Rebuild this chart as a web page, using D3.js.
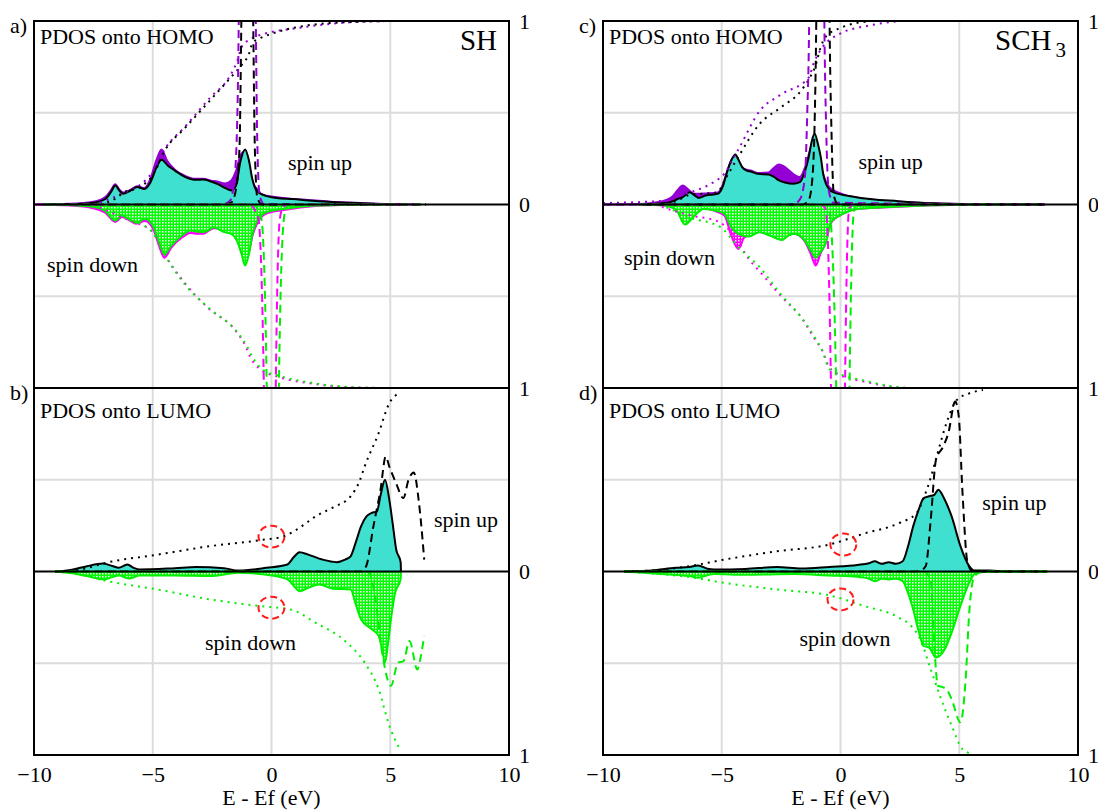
<!DOCTYPE html>
<html>
<head>
<meta charset="utf-8">
<script src="https://cdn.jsdelivr.net/npm/d3@7"></script>
<style>
  body { margin: 0; background: #fff; }
  svg { display: block; }
  text { font-family: "Liberation Serif", "DejaVu Serif", serif; fill: #000; }
</style>
</head>
<body>
<div id="chart"></div>
<script>
// ---- data: [energy (eV), value] ----
// a) SH, PDOS onto HOMO
const aUpB = [[-9.6,0],[-8.5,0.002],[-7.5,0.01],[-7.0,0.03],[-6.75,0.07],[-6.58,0.104],[-6.4,0.075],[-6.25,0.058],[-5.95,0.075],[-5.65,0.095],[-5.35,0.085],[-5.1,0.12],[-4.85,0.2],[-4.63,0.244],[-4.35,0.21],[-4.07,0.185],[-3.62,0.149],[-3.25,0.135],[-2.88,0.136],[-2.55,0.125],[-2.29,0.113],[-1.95,0.09],[-1.7,0.076],[-1.5,0.1],[-1.3,0.24],[-1.11,0.3],[-0.95,0.24],[-0.81,0.14],[-0.6,0.07],[-0.3,0.05],[0.22,0.036],[0.9,0.03],[1.55,0.022],[2.5,0.014],[3.33,0.009],[4.5,0.003],[5.5,0]];
const aUpP = [[-10,0],[-8.5,0.004],[-7.5,0.015],[-7.0,0.04],[-6.75,0.08],[-6.58,0.11],[-6.4,0.08],[-6.25,0.065],[-5.95,0.08],[-5.65,0.1],[-5.35,0.09],[-5.1,0.14],[-4.85,0.24],[-4.63,0.3],[-4.4,0.24],[-4.07,0.19],[-3.62,0.155],[-3.25,0.14],[-2.88,0.14],[-2.55,0.13],[-2.29,0.125],[-1.95,0.115],[-1.7,0.13],[-1.5,0.18],[-1.3,0.27],[-1.11,0.29],[-0.95,0.2],[-0.81,0.13],[-0.6,0.08],[-0.3,0.05],[0.22,0.04],[0.9,0.03],[1.55,0.025],[2.5,0.015],[3.33,0.01],[4.5,0.004],[6,0]];
const aDnG = [[-9.6,0],[-8.5,-0.003],[-7.5,-0.012],[-7.0,-0.035],[-6.58,-0.087],[-6.29,-0.06],[-6.0,-0.08],[-5.7,-0.1],[-5.33,-0.078],[-4.96,-0.124],[-4.75,-0.2],[-4.51,-0.27],[-4.22,-0.224],[-3.77,-0.169],[-3.4,-0.142],[-3.1,-0.148],[-2.88,-0.151],[-2.6,-0.135],[-2.44,-0.124],[-2.0,-0.15],[-1.7,-0.16],[-1.45,-0.2],[-1.26,-0.27],[-1.11,-0.333],[-0.95,-0.27],[-0.8,-0.16],[-0.59,-0.087],[-0.22,-0.042],[0.52,-0.024],[1.85,-0.006],[3,-0.002],[4.8,0]];
const aDnM = [[-10,0],[-8.5,-0.005],[-7.5,-0.02],[-7.0,-0.045],[-6.58,-0.095],[-6.29,-0.068],[-6.0,-0.085],[-5.7,-0.105],[-5.33,-0.09],[-4.96,-0.14],[-4.75,-0.22],[-4.51,-0.29],[-4.22,-0.235],[-3.77,-0.18],[-3.4,-0.155],[-3.1,-0.16],[-2.88,-0.16],[-2.6,-0.14],[-2.44,-0.13],[-2.0,-0.14],[-1.7,-0.15],[-1.45,-0.19],[-1.26,-0.26],[-1.11,-0.31],[-0.95,-0.26],[-0.8,-0.17],[-0.59,-0.1],[-0.22,-0.05],[0.52,-0.03],[1.85,-0.008],[3,-0.003],[5.5,0]];
const aIntUpB = [[-7.2,0],[-6.6,0.03],[-6.2,0.067],[-5.55,0.095],[-4.96,0.167],[-4.51,0.29],[-3.62,0.42],[-2.59,0.567],[-1.7,0.695],[-1.26,0.76],[-0.95,0.82],[-0.81,0.876],[-0.5,0.905],[-0.22,0.92],[1.1,0.967],[3.33,0.995],[5.25,1.0]];
const aIntUpP = [[-7.5,0],[-6.8,0.03],[-6.3,0.06],[-5.6,0.1],[-5.0,0.18],[-4.5,0.3],[-3.6,0.43],[-2.6,0.58],[-1.75,0.7],[-1.45,0.78],[-1.25,0.86],[-0.9,0.9],[-0.3,0.93],[1.0,0.96],[3,0.99],[5,1.0]];
const aIntDnG = [[-7.2,0],[-6.6,-0.04],[-6,-0.08],[-5.3,-0.12],[-4.96,-0.16],[-4.51,-0.27],[-3.62,-0.44],[-2.59,-0.57],[-1.41,-0.7],[-1.0,-0.78],[-0.81,-0.83],[-0.37,-0.9],[0.37,-0.935],[1.85,-0.975],[3.77,-0.998],[5,-1.0]];
const aIntDnM = [[-7.5,0],[-6.8,-0.04],[-6.2,-0.075],[-5.5,-0.11],[-5.0,-0.15],[-4.6,-0.25],[-3.7,-0.42],[-2.7,-0.56],[-1.5,-0.69],[-1.1,-0.77],[-0.9,-0.83],[-0.45,-0.9],[0.3,-0.94],[1.8,-0.978],[3.7,-0.998],[5,-1.0]];
const aSpkUpB = [[-9.6,0],[-2.0,0],[-1.7,0.01],[-1.5,0.08],[-1.35,0.3],[-1.27,1.0],[-1.22,1.6],[-0.82,1.6],[-0.77,1.0],[-0.7,0.3],[-0.6,0.04],[-0.4,0],[6.5,0]];
const aSpkUpP = [[-9.6,0],[-2.1,0],[-1.75,0.02],[-1.55,0.15],[-1.42,0.6],[-1.37,1.1],[-1.33,1.6],[-0.7,1.6],[-0.66,1.0],[-0.6,0.35],[-0.5,0.05],[-0.3,0],[6.5,0]];
const aSpkDnM = [[-9.6,0],[-0.9,0],[-0.7,-0.03],[-0.55,-0.08],[-0.32,-1.0],[-0.29,-1.6],[0.15,-1.6],[0.18,-1.0],[0.35,-0.08],[0.5,-0.01],[0.8,0],[6.5,0]];
const aSpkDnG = [[-9.6,0],[-0.8,0],[-0.55,-0.03],[-0.42,-0.08],[-0.2,-1.0],[-0.17,-1.6],[0.28,-1.6],[0.31,-1.0],[0.52,-0.08],[0.65,-0.01],[0.9,0],[6.5,0]];

// c) SCH3, PDOS onto HOMO
const cUpB = [[-8.3,0],[-7.6,0.005],[-7.16,0.013],[-6.85,0.03],[-6.64,0.04],[-6.35,0.067],[-6.15,0.05],[-5.98,0.036],[-5.68,0.049],[-5.17,0.058],[-4.95,0.1],[-4.8,0.167],[-4.6,0.24],[-4.43,0.273],[-4.28,0.24],[-4.14,0.204],[-3.95,0.185],[-3.77,0.18],[-3.48,0.167],[-3.03,0.164],[-2.8,0.15],[-2.59,0.131],[-2.3,0.118],[-2.0,0.113],[-1.71,0.122],[-1.5,0.18],[-1.34,0.258],[-1.2,0.35],[-1.09,0.385],[-0.95,0.33],[-0.83,0.258],[-0.72,0.16],[-0.61,0.113],[-0.31,0.067],[0.66,0.04],[2.43,0.018],[3.9,0.007],[6.1,0.002],[8.6,0]];
const cUpP = [[-10,0],[-8.5,0.003],[-7.6,0.015],[-7.1,0.04],[-6.85,0.08],[-6.64,0.104],[-6.4,0.08],[-6.2,0.06],[-5.98,0.058],[-5.68,0.06],[-5.17,0.065],[-4.95,0.11],[-4.8,0.17],[-4.6,0.24],[-4.43,0.26],[-4.28,0.23],[-4.14,0.2],[-3.95,0.19],[-3.77,0.185],[-3.48,0.172],[-3.03,0.175],[-2.8,0.2],[-2.59,0.218],[-2.3,0.2],[-2.0,0.167],[-1.71,0.15],[-1.5,0.2],[-1.34,0.27],[-1.2,0.33],[-1.09,0.35],[-0.95,0.3],[-0.8,0.2],[-0.6,0.12],[-0.47,0.095],[0,0.06],[1.0,0.031],[2.5,0.015],[4,0.006],[6,0.002],[8.6,0]];
const cDnG = [[-8.3,0],[-7.4,-0.005],[-6.9,-0.033],[-6.55,-0.109],[-6.2,-0.069],[-5.77,-0.024],[-5.2,-0.035],[-4.89,-0.05],[-4.6,-0.124],[-4.3,-0.16],[-3.86,-0.175],[-3.42,-0.151],[-2.98,-0.169],[-2.47,-0.193],[-2.2,-0.17],[-1.96,-0.16],[-1.51,-0.196],[-1.25,-0.25],[-1.04,-0.29],[-0.85,-0.26],[-0.63,-0.215],[-0.4,-0.096],[0.12,-0.05],[0.71,-0.024],[2.47,-0.011],[3.95,-0.004],[5.5,-0.001],[7,0]];
const cDnM = [[-8.5,0],[-7.4,-0.006],[-6.9,-0.03],[-6.55,-0.1],[-6.2,-0.06],[-5.77,-0.02],[-5.2,-0.04],[-4.89,-0.06],[-4.6,-0.17],[-4.3,-0.242],[-4.05,-0.18],[-3.86,-0.17],[-3.42,-0.15],[-2.98,-0.165],[-2.47,-0.19],[-2.2,-0.168],[-1.96,-0.16],[-1.51,-0.2],[-1.25,-0.27],[-1.04,-0.333],[-0.85,-0.27],[-0.63,-0.21],[-0.4,-0.1],[0.12,-0.05],[0.71,-0.025],[2.47,-0.012],[4,-0.004],[6,0]];
const cIntUpB = [[-7.6,0],[-6.9,0.02],[-6.4,0.05],[-5.2,0.067],[-4.8,0.15],[-4.3,0.26],[-3.4,0.44],[-2.5,0.53],[-1.66,0.62],[-1.3,0.69],[-1.07,0.75],[-0.85,0.85],[-0.63,0.913],[0.1,0.967],[1.3,1.0]];
const cIntUpP = [[-10,0.008],[-7.5,0.02],[-6.5,0.06],[-5.5,0.11],[-4.9,0.167],[-4.3,0.3],[-3.4,0.51],[-2.5,0.6],[-1.35,0.69],[-1.1,0.78],[-0.77,0.855],[-0.03,0.93],[1.2,0.975],[2.46,1.0]];
const cIntDnG = [[-7.6,0],[-6.9,-0.04],[-6.4,-0.069],[-5.05,-0.124],[-4.3,-0.233],[-3.4,-0.342],[-2.53,-0.487],[-1.65,-0.615],[-1.1,-0.72],[-0.77,-0.796],[-0.47,-0.896],[-0.03,-0.924],[1.0,-0.96],[2.5,-0.996],[3,-1.0]];
const cIntDnM = [[-7.8,0],[-7,-0.035],[-6.3,-0.06],[-5.2,-0.09],[-4.6,-0.15],[-4.3,-0.2],[-4.0,-0.27],[-3.3,-0.38],[-2.5,-0.5],[-1.6,-0.625],[-1.1,-0.73],[-0.75,-0.8],[-0.5,-0.88],[0,-0.93],[1.0,-0.965],[2.5,-0.998],[3,-1.0]];
const cSpkUpB = [[-8.3,0],[-1.6,0],[-1.35,0.02],[-1.2,0.12],[-1.08,0.5],[-1.02,1.0],[-0.98,1.6],[-0.5,1.6],[-0.46,1.0],[-0.38,0.4],[-0.28,0.05],[-0.1,0],[8.6,0]];
const cSpkUpP = [[-10,0],[-2.0,0],[-1.7,0.03],[-1.5,0.15],[-1.4,0.5],[-1.32,1.0],[-1.28,1.6],[-0.72,1.6],[-0.68,1.0],[-0.6,0.4],[-0.5,0.08],[-0.3,0.01],[8.6,0]];
const cSpkDnM = [[-8.5,0],[-0.9,0],[-0.7,-0.01],[-0.62,-0.03],[-0.4,-1.0],[-0.37,-1.6],[0.16,-1.6],[0.19,-1.0],[0.36,-0.03],[0.5,0],[8.6,0]];
const cSpkDnG = [[-8.5,0],[-0.75,0],[-0.55,-0.01],[-0.47,-0.03],[-0.18,-1.0],[-0.15,-1.6],[0.35,-1.6],[0.38,-1.0],[0.57,-0.03],[0.7,0],[8.6,0]];

// b) SH, PDOS onto LUMO
const bUpB = [[-9.1,0],[-8.4,0.01],[-7.77,0.029],[-7.1,0.043],[-6.7,0.03],[-6.43,0.02],[-6.07,0.038],[-5.8,0.02],[-5.55,0.011],[-4.07,0.018],[-3.18,0.024],[-2.0,0.018],[-1.4,0.005],[-0.22,0.02],[0.67,0.038],[0.95,0.08],[1.18,0.105],[1.55,0.092],[2.14,0.065],[2.74,0.051],[3.1,0.065],[3.33,0.083],[3.55,0.16],[3.77,0.246],[4.0,0.3],[4.22,0.319],[4.44,0.328],[4.6,0.42],[4.78,0.5],[4.95,0.4],[5.1,0.264],[5.25,0.12],[5.44,0.05],[5.45,0]];
const bDnG = [[-9.1,0],[-8.4,-0.01],[-7.77,-0.025],[-7.03,-0.043],[-6.7,-0.03],[-6.43,-0.022],[-5.99,-0.038],[-5.55,-0.022],[-4.07,-0.022],[-2.59,-0.025],[-1.4,-0.007],[-0.22,-0.018],[0.67,-0.043],[0.95,-0.08],[1.18,-0.107],[1.55,-0.089],[2.0,-0.071],[2.59,-0.094],[3.33,-0.098],[3.55,-0.18],[3.77,-0.26],[4.22,-0.315],[4.51,-0.351],[4.65,-0.42],[4.78,-0.496],[4.9,-0.4],[5.03,-0.26],[5.2,-0.12],[5.44,-0.04],[5.45,0]];
const bIntUp = [[-9.1,0],[-8.06,0.011],[-6.88,0.05],[-4.8,0.092],[-2.59,0.138],[-0.52,0.17],[0.52,0.192],[1.2,0.24],[1.85,0.3],[2.6,0.35],[3.33,0.41],[3.7,0.49],[3.92,0.572],[4.51,0.754],[4.96,0.917],[5.33,0.97]];
const bIntDn = [[-9.1,0],[-8.06,-0.016],[-6.88,-0.053],[-4.8,-0.098],[-2.59,-0.152],[-0.52,-0.188],[0.81,-0.207],[1.85,-0.279],[3.18,-0.388],[3.92,-0.496],[4.51,-0.641],[4.96,-0.84],[5.4,-0.967]];
const bSpkUp = [[-9.1,0],[3.77,0],[3.99,0.03],[4.29,0.246],[4.59,0.446],[4.81,0.627],[4.96,0.572],[5.25,0.48],[5.55,0.4],[5.77,0.5],[5.99,0.54],[6.21,0.373],[6.43,0.065]];
const bSpkDn = [[-9.1,0],[4.07,0],[4.36,-0.134],[4.66,-0.442],[5.03,-0.623],[5.33,-0.496],[5.55,-0.49],[5.81,-0.379],[6.14,-0.534],[6.29,-0.46],[6.43,-0.351]];
const bMarks = [[0,0.19],[0,-0.197]];

// d) SCH3, PDOS onto LUMO
const dUpB = [[-9.1,0],[-7.84,0.007],[-6.95,0.02],[-6.37,0.024],[-6.0,0.033],[-5.6,0.015],[-5.33,0.011],[-4.0,0.014],[-2.68,0.024],[-1.65,0.016],[-0.47,0.025],[0.71,0.036],[1.2,0.045],[1.44,0.056],[1.74,0.042],[2.03,0.051],[2.33,0.042],[2.62,0.056],[2.85,0.14],[3.06,0.246],[3.3,0.34],[3.5,0.4],[3.73,0.41],[3.95,0.418],[4.12,0.446],[4.39,0.391],[4.68,0.3],[5.05,0.138],[5.42,0.029],[5.64,0.005],[6.3,0.005],[6.9,0.001],[8.7,0]];
const dDnG = [[-9.1,0],[-7.84,-0.011],[-6.37,-0.025],[-6.0,-0.034],[-5.6,-0.02],[-5.33,-0.014],[-4.0,-0.018],[-1.94,-0.014],[-0.47,-0.022],[0.71,-0.029],[1.2,-0.04],[1.44,-0.053],[1.74,-0.04],[2.03,-0.043],[2.33,-0.04],[2.62,-0.053],[2.85,-0.12],[3.06,-0.207],[3.3,-0.33],[3.5,-0.406],[3.73,-0.415],[4.02,-0.469],[4.39,-0.424],[4.68,-0.333],[5.05,-0.188],[5.42,-0.062],[5.71,-0.007],[6.5,-0.002],[8.7,0]];
const dIntUp = [[-9.1,0],[-7.5,0.01],[-6.37,0.029],[-4.89,0.065],[-2.68,0.11],[-0.47,0.147],[1.0,0.207],[2.47,0.264],[3.21,0.319],[3.5,0.4],[3.73,0.482],[4.09,0.645],[4.46,0.808],[4.9,0.935],[5.42,0.971],[6.0,0.989]];
const dIntDn = [[-9.1,0],[-7.5,-0.015],[-6.37,-0.03],[-4.89,-0.062],[-2.68,-0.098],[-0.47,-0.13],[1.0,-0.188],[2.47,-0.252],[3.0,-0.3],[3.36,-0.37],[3.8,-0.533],[4.24,-0.696],[4.68,-0.84],[5.13,-0.967],[5.57,-0.995]];
const dSpkUp = [[-9.1,0],[3.0,0],[3.36,0.005],[3.59,0.03],[3.8,0.283],[4.02,0.609],[4.32,0.68],[4.54,0.754],[4.83,0.926],[4.98,0.844],[5.13,0.446],[5.35,0.047],[5.57,0],[8.7,0]];
const dSpkDn = [[-9.1,0],[3.5,0],[3.8,-0.05],[3.95,-0.406],[4.1,-0.623],[4.3,-0.63],[4.46,-0.641],[4.68,-0.696],[5.05,-0.822],[5.27,-0.587],[5.42,-0.225],[5.64,-0.025],[6.0,0],[8.7,0]];
const dMarks = [[0.12,0.147],[0,-0.152]];

const xTicks = [-10, -5, 0, 5, 10];
const yGrid = [-0.5, 0.5];

// ---- layout ----
const width = 1098, height = 812;
const cols = [34, 603], rows = [21, 388];
const panelW = 475, panelH = 367;

const purple = "#9400d3", cyan = "#40e0d0", magenta = "#ff00ff", green = "#00ee00";

const svg = d3.select("#chart").append("svg")
  .attr("width", width)
  .attr("height", height)
  .attr("viewBox", [0, 0, width, height]);

const defs = svg.append("defs");
function hatch(id, color) {
  const p = defs.append("pattern").attr("id", id)
    .attr("patternUnits", "userSpaceOnUse").attr("width", 3).attr("height", 3);
  p.append("rect").attr("width", 3).attr("height", 3).attr("fill", color);
  p.append("rect").attr("width", 1.5).attr("height", 1.5).attr("fill", "#fff");
}
hatch("hatchG", "#00ff00");
hatch("hatchM", "#ff00ff");

const panels = [
  { key: "a", col: 0, row: 0, letter: "a)", title: "PDOS onto HOMO", mol: "SH", titleDy: 23,
    fills: [[aUpP, purple, purple], [aUpB, cyan, "#000"], [aDnM, "url(#hatchM)", magenta], [aDnG, "url(#hatchG)", green]],
    dotted: [[aIntUpP, purple], [aIntUpB, "#000"], [aIntDnM, magenta], [aIntDnG, green]],
    dashed: [[aSpkUpP, purple], [aSpkUpB, "#000"], [aSpkDnM, magenta], [aSpkDnG, green]],
    marks: [], up: [0.69, 0.188], down: [-9.45, -0.368] },
  { key: "c", col: 1, row: 0, letter: "c)", title: "PDOS onto HOMO", mol: "SCH", sub: "3", titleDy: 23,
    fills: [[cUpP, purple, purple], [cUpB, cyan, "#000"], [cDnM, "url(#hatchM)", magenta], [cDnG, "url(#hatchG)", green]],
    dotted: [[cIntUpP, purple], [cIntUpB, "#000"], [cIntDnM, magenta], [cIntDnG, green]],
    dashed: [[cSpkUpP, purple], [cSpkUpB, "#000"], [cSpkDnM, magenta], [cSpkDnG, green]],
    marks: [], up: [0.76, 0.193], down: [-9.12, -0.33] },
  { key: "b", col: 0, row: 1, letter: "b)", title: "PDOS onto LUMO", titleDy: 30,
    fills: [[bUpB, cyan, "#000"], [bDnG, "url(#hatchG)", green]],
    dotted: [[bIntUp, "#000"], [bIntDn, green]],
    dashed: [[bSpkUp, "#000"], [bSpkDn, green]],
    marks: bMarks, up: [6.84, 0.242], down: [-2.8, -0.428] },
  { key: "d", col: 1, row: 1, letter: "d)", title: "PDOS onto LUMO", titleDy: 30,
    fills: [[dUpB, cyan, "#000"], [dDnG, "url(#hatchG)", green]],
    dotted: [[dIntUp, "#000"], [dIntDn, green]],
    dashed: [[dSpkUp, "#000"], [dSpkDn, green]],
    marks: dMarks, up: [5.97, 0.335], down: [-1.73, -0.406] }
];

panels.forEach(p => {
  const left = cols[p.col], top = rows[p.row];
  const x = d3.scaleLinear([-10, 10], [left, left + panelW]);
  const y = d3.scaleLinear([-1, 1], [top + panelH, top]);

  defs.append("clipPath").attr("id", "clip-" + p.key)
    .append("rect").attr("x", left).attr("y", top).attr("width", panelW).attr("height", panelH);

  const g = svg.append("g");
  const plot = g.append("g").attr("clip-path", `url(#clip-${p.key})`);

  // grid
  plot.selectAll(".vg").data(xTicks.slice(1, -1)).join("line")
    .attr("x1", d => x(d)).attr("x2", d => x(d))
    .attr("y1", top).attr("y2", top + panelH)
    .attr("stroke", "#dcdcdc").attr("stroke-width", 2);
  plot.selectAll(".hg").data(yGrid).join("line")
    .attr("x1", left).attr("x2", left + panelW)
    .attr("y1", d => y(d)).attr("y2", d => y(d))
    .attr("stroke", "#dcdcdc").attr("stroke-width", 2);

  const area = d3.area().x(d => x(d[0])).y0(y(0)).y1(d => y(d[1])).curve(d3.curveMonotoneX);
  const line = d3.line().x(d => x(d[0])).y(d => y(d[1])).curve(d3.curveMonotoneX);

  p.fills.forEach(([data, fill, stroke]) => {
    plot.append("path").attr("d", area(data)).attr("fill", fill);
    plot.append("path").attr("d", line(data)).attr("fill", "none")
      .attr("stroke", stroke).attr("stroke-width", 2);
  });

  p.dotted.forEach(([data, color]) => {
    plot.append("path").attr("d", line(data)).attr("fill", "none")
      .attr("stroke", color).attr("stroke-width", 2).attr("stroke-dasharray", "2,5");
  });

  p.dashed.forEach(([data, color]) => {
    plot.append("path").attr("d", line(data)).attr("fill", "none")
      .attr("stroke", color).attr("stroke-width", 2).attr("stroke-dasharray", "8,5");
  });

  // zero line
  plot.append("line").attr("x1", left).attr("x2", left + panelW)
    .attr("y1", y(0)).attr("y2", y(0)).attr("stroke", "#000").attr("stroke-width", 2);

  // red dashed markers
  plot.selectAll(".mk").data(p.marks).join("ellipse")
    .attr("cx", d => x(d[0])).attr("cy", d => y(d[1]))
    .attr("rx", 13).attr("ry", 11)
    .attr("fill", "none").attr("stroke", "#ff1a1a").attr("stroke-width", 2)
    .attr("stroke-dasharray", "7,4");

  // frame
  g.append("rect").attr("x", left).attr("y", top).attr("width", panelW).attr("height", panelH)
    .attr("fill", "none").attr("stroke", "#000").attr("stroke-width", 2);

  // right axis 1 / 0 / 1
  g.append("g")
    .attr("transform", `translate(${left + panelW},0)`)
    .call(d3.axisRight(y).tickValues(p.row === 0 ? [1, 0, -1] : [0, -1])
      .tickFormat(d => Math.abs(d)).tickSize(0).tickPadding(10))
    .call(s => s.select(".domain").remove())
    .call(s => s.selectAll("text").attr("font-size", 22)
      .attr("font-family", "Liberation Serif").attr("fill", "#000"));

  // bottom axis for lower panels
  if (p.row === 1) {
    g.append("g")
      .attr("transform", `translate(0,${top + panelH})`)
      .call(d3.axisBottom(x).tickValues(xTicks).tickSize(0))
      .call(s => s.select(".domain").remove())
      .call(s => s.selectAll("text").attr("y", 27).attr("dy", 0).attr("font-size", 22)
        .attr("font-family", "Liberation Serif").attr("fill", "#000"));
    g.append("text").attr("x", x(0)).attr("y", top + panelH + 50)
      .attr("text-anchor", "middle").attr("font-size", 22).text("E - Ef (eV)");
  }

  // labels
  g.append("text").attr("x", left - 24).attr("y", top + 12).attr("font-size", 22).text(p.letter);
  g.append("text").attr("x", left + 6).attr("y", top + p.titleDy).attr("font-size", 22).text(p.title);
  if (p.mol) {
    const t = g.append("text").attr("x", left + panelW - 12).attr("y", top + 29)
      .attr("text-anchor", "end").attr("font-size", 29).text(p.mol);
    if (p.sub) t.append("tspan").attr("dx", 4).attr("dy", 7).attr("font-size", 21).text(p.sub);
  }
  g.append("text").attr("x", x(p.up[0])).attr("y", y(p.up[1])).attr("font-size", 22).text("spin up");
  g.append("text").attr("x", x(p.down[0])).attr("y", y(p.down[1])).attr("font-size", 22).text("spin down");
});
</script>
</body>
</html>
